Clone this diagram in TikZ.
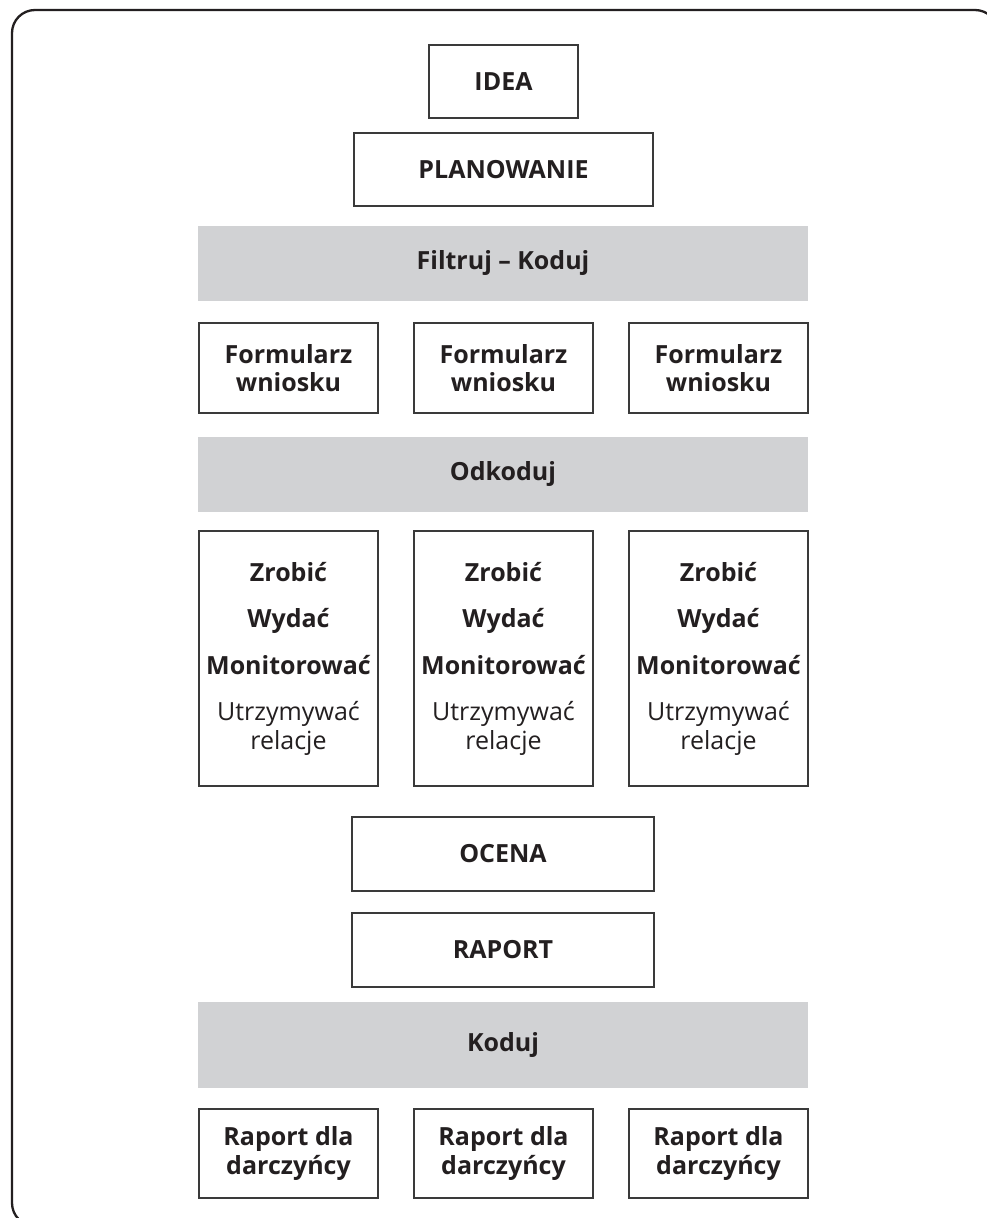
\documentclass[tikz,border=0pt]{standalone}
\usepackage{fontspec}
\setmainfont{Open Sans}
\definecolor{ink}{HTML}{231F20}
\definecolor{edge}{HTML}{3A3A3A}
\definecolor{bar}{HTML}{D1D2D4}
\begin{document}
\begin{tikzpicture}[x=1pt,y=-1pt,
  every node/.style={font=\fontsize{25}{28.5}\selectfont, text=ink, inner sep=0pt, align=center},
  box/.style={draw=edge, line width=1.3pt, fill=white},
  band/.style={fill=bar, draw=none, minimum width=610pt},
  small/.style={minimum width=179pt}]
\useasboundingbox (0,0) rectangle (987,1218);
\clip (0,0) rectangle (987,1218);
\draw[line width=2.3pt, draw=ink, rounded corners=23pt] (12,10) rectangle (998,1226);

\node[box, minimum width=149pt, minimum height=73pt] (idea) at (503.5,81.5) {\textbf{IDEA}};
\node[box, minimum width=299pt, minimum height=73pt] (plan) at (503.5,169.5) {\textbf{PLANOWANIE}};

\node[band, minimum height=75pt] (filtr) at (503,263.5) {\textbf{Filtruj – Koduj}};

\node[box, small, minimum height=90pt] (f1) at (288.5,368) {\textbf{Formularz}\\\textbf{wniosku}};
\node[box, small, minimum height=90pt] (f2) at (503.5,368) {\textbf{Formularz}\\\textbf{wniosku}};
\node[box, small, minimum height=90pt] (f3) at (718.5,368) {\textbf{Formularz}\\\textbf{wniosku}};

\node[band, minimum height=75pt] (odk) at (503,474.5) {\textbf{Odkoduj}};

\node[box, small, minimum height=255pt] (z1) at (288.5,658.5) {\textbf{Zrobić}\\[18pt]\textbf{Wydać}\\[18pt]\textbf{Monitorować}\\[18pt]Utrzymywać\\relacje};
\node[box, small, minimum height=255pt] (z2) at (503.5,658.5) {\textbf{Zrobić}\\[18pt]\textbf{Wydać}\\[18pt]\textbf{Monitorować}\\[18pt]Utrzymywać\\relacje};
\node[box, small, minimum height=255pt] (z3) at (718.5,658.5) {\textbf{Zrobić}\\[18pt]\textbf{Wydać}\\[18pt]\textbf{Monitorować}\\[18pt]Utrzymywać\\relacje};

\node[box, minimum width=302pt, minimum height=74pt] (ocena) at (503,854) {\textbf{OCENA}};
\node[box, minimum width=302pt, minimum height=74pt] (rap) at (503,950) {\textbf{RAPORT}};

\node[band, minimum height=86pt] (kod) at (503,1045) {\textbf{Koduj}};

\node[box, small, minimum height=89pt] (r1) at (288.5,1153.5) {\textbf{Raport dla}\\\textbf{darczyńcy}};
\node[box, small, minimum height=89pt] (r2) at (503.5,1153.5) {\textbf{Raport dla}\\\textbf{darczyńcy}};
\node[box, small, minimum height=89pt] (r3) at (718.5,1153.5) {\textbf{Raport dla}\\\textbf{darczyńcy}};
\end{tikzpicture}
\end{document}
